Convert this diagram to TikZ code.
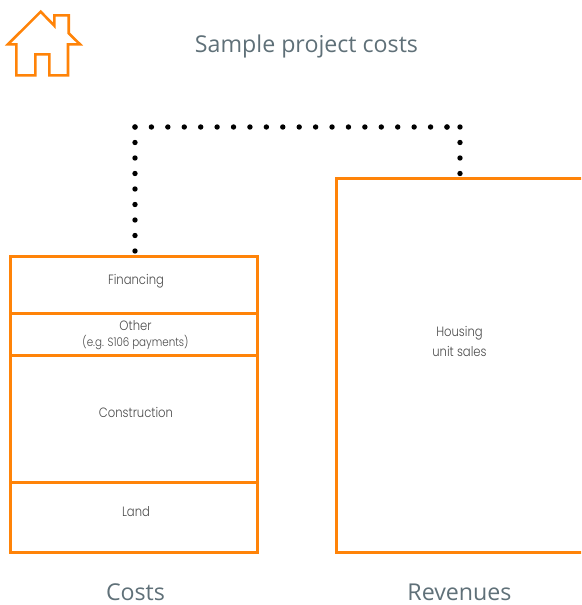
\documentclass[tikz,border=0pt]{standalone}
\usepackage{fontspec}
\setmainfont{Open Sans}
\newfontfamily\bodyfont[FakeStretch=0.86]{Poppins Light}
\newfontfamily\headfont{Open Sans}
\definecolor{boxorange}{HTML}{FF8308}
\definecolor{headgrey}{HTML}{5F7078}
\definecolor{bodygrey}{HTML}{4A4A4A}
\tikzset{
  x=1pt,y=-1pt,
  costbox/.style={draw=boxorange,line width=3pt,rectangle,inner sep=0pt,outer sep=0pt,minimum width=246.5pt},
  headlabel/.style={text=headgrey,font=\headfont\fontsize{23.2}{26}\selectfont,inner sep=0pt},
  boxlabel/.style={text=bodygrey,font=\bodyfont\fontsize{13.5}{15}\selectfont,inner sep=0pt,align=center},
  smalllabel/.style={text=bodygrey,font=\bodyfont\fontsize{12}{14}\selectfont,inner sep=0pt},
  dotline/.style={line width=5.4pt,line cap=round,black}
}
\begin{document}
\begin{tikzpicture}
\useasboundingbox (0,0) rectangle (581,605);
\clip (0,0) rectangle (581,605);
% house
\draw[boxorange,line width=2.6pt,miter limit=10] (40.7,11.7) -- (54.3,25.7) -- (54.3,15.3) -- (68.7,15.3) -- (68.7,33.3) -- (80,44.3) -- (68,44.3) -- (68,75.3) -- (49.3,75.3) -- (49.3,54.3) -- (35.3,54.3) -- (35.3,75.3) -- (16.3,75.3) -- (16.3,44.3) -- (8,44.3) -- cycle;
\node[headlabel] (title) at (306.5,46) {Sample project costs};
% boxes
\node[costbox,minimum height=56.5pt] (fin) at (133.75,284.75) {};
\node[costbox,minimum height=42pt] (oth) at (133.75,334) {};
\node[costbox,minimum height=127pt] (con) at (133.75,418.5) {};
\node[costbox,minimum height=70pt] (land) at (133.75,517) {};
\node[costbox,minimum width=249pt,minimum height=374pt] (rev) at (460.5,365) {};
\node[boxlabel] (finl) at (136,281) {Financing};
\node[boxlabel] (othl) at (135.5,326) {Other};
\node[smalllabel] (othe) at (135.5,342) {(e.g. S106 payments)};
\node[boxlabel] (conl) at (136,412.5) {Construction};
\node[boxlabel] (landl) at (136,511.5) {Land};
\node[boxlabel] (revl1) at (459.5,333) {Housing};
\node[boxlabel] (revl2) at (459.5,351) {unit sales};
\node[headlabel] (costs) at (135.5,592.5) {Costs};
\node[headlabel] (revs) at (459.5,592.5) {Revenues};
% dotted connector
\coordinate (s) at (135,251);
\coordinate (c1) at (135,127);
\coordinate (c2) at (447,127);
\coordinate (c3) at (460,127);
\coordinate (e) at (460,173.5);
\draw[dotline,dash pattern=on 0pt off 15.5pt] (s) -- (c1);
\draw[dotline,dash pattern=on 0pt off 16.42pt] (c1) -- (c2);
\draw[dotline,dash pattern=on 0pt off 13pt] (c2) -- (c3);
\draw[dotline,dash pattern=on 0pt off 15.5pt] (c3) -- (e);
\end{tikzpicture}
\end{document}
